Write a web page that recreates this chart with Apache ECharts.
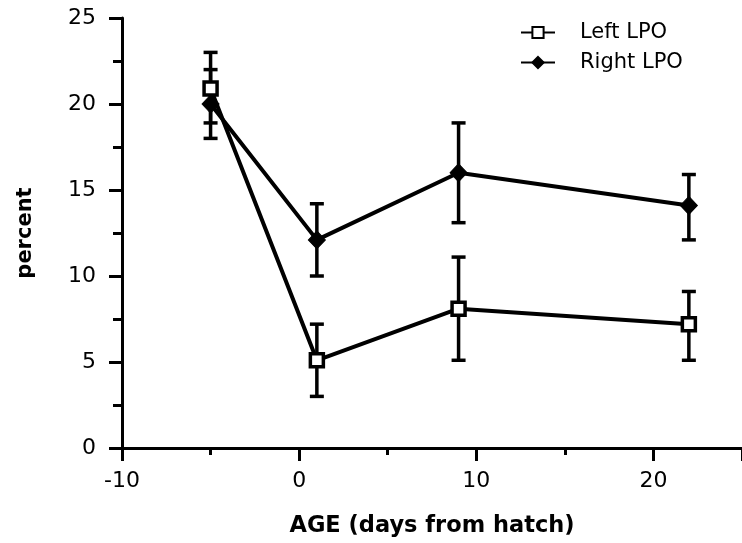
<!DOCTYPE html>
<html>
<head>
<meta charset="utf-8">
<script src="https://cdn.jsdelivr.net/npm/echarts@6/dist/echarts.min.js"></script>
<style>
    html, body { margin: 0; padding: 0; background: #fff; }
    #chart { width: 742px; height: 543px; }
</style>
</head>
<body>
<div id="chart"></div>
<script>
// age in days from hatch
const ages = [-5, 1, 9, 22];

const leftMean = [20.9, 5.1, 8.1, 7.2];
const leftLow = [18.9, 3.0, 5.1, 5.1];
const leftHigh = [22.0, 7.2, 11.1, 9.1];

const rightMean = [20.0, 12.1, 16.0, 14.1];
const rightLow = [18.0, 10.0, 13.1, 12.1];
const rightHigh = [23.0, 14.2, 18.9, 15.9];

const yTicks = [0, 5, 10, 15, 20, 25];

const FONT = '"DejaVu Sans", sans-serif';

const errorData = (low, high) => ages.map((a, i) => [a, low[i], high[i]]);

const renderErrorBar = (params, api) => {
    const x = api.value(0);
    const lo = api.coord([x, api.value(1)]);
    const hi = api.coord([x, api.value(2)]);
    const half = 7;
    const style = { stroke: '#000', lineWidth: 3.5 };
    return {
        type: 'group',
        children: [
            { type: 'line', shape: { x1: lo[0], y1: lo[1], x2: hi[0], y2: hi[1] }, style },
            { type: 'line', shape: { x1: hi[0] - half, y1: hi[1], x2: hi[0] + half, y2: hi[1] }, style },
            { type: 'line', shape: { x1: lo[0] - half, y1: lo[1], x2: lo[0] + half, y2: lo[1] }, style },
        ],
    };
};

const chart = echarts.init(document.getElementById('chart'));
const option = {
    backgroundColor: '#fff',
    animation: false,
    grid: {
        left: 122,
        top: 18,
        width: 624,
        height: 432,
    },
    legend: {
        left: 515,
        top: 17,
        orient: 'vertical',
        itemWidth: 34,
        itemHeight: 14,
        itemGap: 9,
        textStyle: { fontFamily: FONT, fontSize: 21, color: '#000', padding: [0, 0, 0, 20] },
        data: ['Left LPO', 'Right LPO'],
    },
    xAxis: {
        type: 'value',
        min: -10,
        max: 25,
        interval: 10,
        name: 'AGE (days from hatch)',
        nameLocation: 'middle',
        nameGap: 67,
        nameTextStyle: { fontFamily: FONT, fontSize: 22.5, fontWeight: 'bold', color: '#000' },
        axisLine: { onZero: false, lineStyle: { color: '#000', width: 3 } },
        axisTick: { length: 13, lineStyle: { color: '#000', width: 3 } },
        minorTick: { show: true, splitNumber: 2, length: 7, lineStyle: { color: '#000', width: 3 } },
        axisLabel: {
            showMaxLabel: false,
            margin: 22,
            fontFamily: FONT,
            fontSize: 22,
            color: '#000',
        },
        splitLine: { show: false },
    },
    yAxis: {
        type: 'value',
        min: yTicks[0],
        max: yTicks[yTicks.length - 1],
        interval: 5,
        name: 'percent',
        nameLocation: 'middle',
        nameGap: 86,
        nameTextStyle: { fontFamily: FONT, fontSize: 21, fontWeight: 'bold', color: '#000' },
        axisLine: { onZero: false, lineStyle: { color: '#000', width: 3 } },
        axisTick: { length: 13, lineStyle: { color: '#000', width: 3 } },
        minorTick: { show: true, splitNumber: 2, length: 9, lineStyle: { color: '#000', width: 3 } },
        axisLabel: {
            margin: 26,
            fontFamily: FONT,
            fontSize: 22,
            color: '#000',
        },
        splitLine: { show: false },
    },
    series: [
        {
            name: 'Left LPO',
            type: 'line',
            z: 3,
            data: ages.map((a, i) => [a, leftMean[i]]),
            symbol: 'rect',
            symbolSize: 13,
            lineStyle: { color: '#000', width: 4 },
            itemStyle: { color: '#fff', borderColor: '#000', borderWidth: 3.5 },
        },
        {
            name: 'Right LPO',
            type: 'line',
            z: 3,
            data: ages.map((a, i) => [a, rightMean[i]]),
            symbol: 'diamond',
            symbolSize: [17, 18],
            lineStyle: { color: '#000', width: 4 },
            itemStyle: { color: '#000', borderColor: '#000', borderWidth: 1 },
        },
        {
            type: 'custom',
            z: 2,
            renderItem: renderErrorBar,
            encode: { x: 0, y: [1, 2] },
            data: errorData(leftLow, leftHigh),
        },
        {
            type: 'custom',
            z: 2,
            renderItem: renderErrorBar,
            encode: { x: 0, y: [1, 2] },
            data: errorData(rightLow, rightHigh),
        },
    ],
};
chart.setOption(option);
</script>
</body>
</html>
